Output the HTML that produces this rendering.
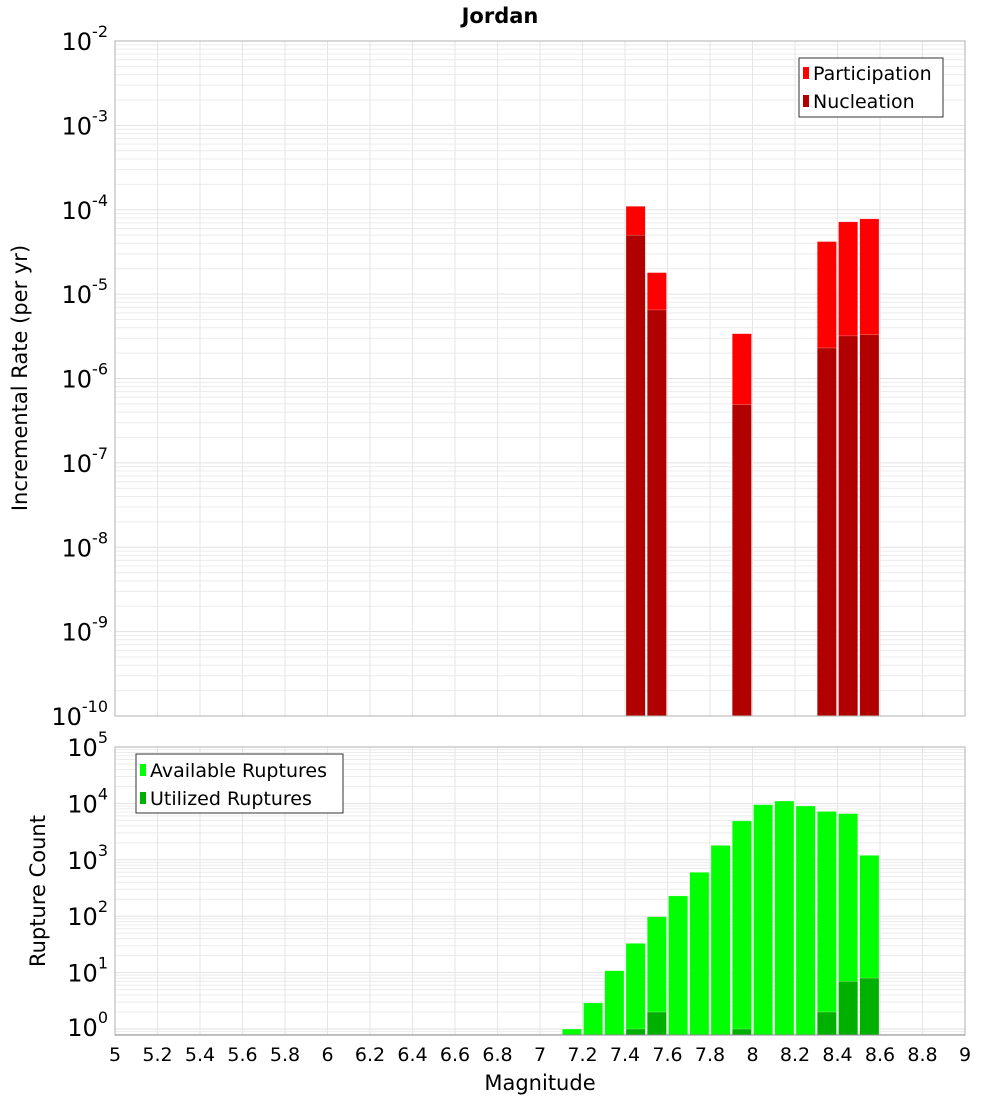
<!DOCTYPE html>
<html><head><meta charset="utf-8"><style>
body{margin:0;background:#fff;}
svg text{font-family:"DejaVu Sans","Liberation Sans",sans-serif;fill:#000;}
</style></head><body>
<svg id="chart" width="1000" height="1100" xmlns="http://www.w3.org/2000/svg">
<text x="500" y="23" text-anchor="middle" font-size="21" font-weight="bold">Jordan</text>
<g id="top"></g>
<g id="bot"></g>
<text x="540" y="1090" text-anchor="middle" font-size="21">Magnitude</text>
<text transform="translate(27,378) rotate(-90)" text-anchor="middle" font-size="21">Incremental Rate (per yr)</text>
<text transform="translate(45,891) rotate(-90)" text-anchor="middle" font-size="21">Rupture Count</text>
</svg>
<script>
const mags = [7.15,7.25,7.35,7.45,7.55,7.65,7.75,7.85,7.95,8.05,8.15,8.25,8.35,8.45,8.55];
const rateMags = [7.45,7.55,7.95,8.35,8.45,8.55];
const participation = [1.1e-4,1.8e-5,3.4e-6,4.2e-5,7.2e-5,7.8e-5];
const nucleation = [5e-5,6.5e-6,4.9e-7,2.3e-6,3.2e-6,3.3e-6];
const available = [1,2.9,10.8,33,98,229,600,1800,4900,9500,11000,9000,7200,6600,1200];
const utilized = [0,0,0,1,2,0,0,0,1,0,0,0,2,7,8];
const xTicks = ["5","5.2","5.4","5.6","5.8","6","6.2","6.4","6.6","6.8","7","7.2","7.4","7.6","7.8","8","8.2","8.4","8.6","8.8","9"];
const topExps = [-2,-3,-4,-5,-6,-7,-8,-9,-10];
const botExps = [5,4,3,2,1,0];

const NS="http://www.w3.org/2000/svg";
const L=115,R=965;
const x=m=>L+(m-5)/4*(R-L);
function mk(parent,tag,attrs){const e=document.createElementNS(NS,tag);for(const k in attrs)e.setAttribute(k,attrs[k]);parent.appendChild(e);return e;}
function panel(g,top,bottom,yOf,minE,maxE,name){
  // grid
  for(let e=minE-1;e<=maxE;e++){for(let k=1;k<10;k++){const y=yOf(k*Math.pow(10,e));if(y<top-0.5||y>bottom+0.5)continue;
    const ln=mk(g,'line',{x1:L,x2:R,y1:y,y2:y,stroke:k==1?'#e2e2e2':'#ececec','stroke-width':1});
    
    }}
  for(let i=0;i<xTicks.length;i++){const xx=x(+xTicks[i]);
    const ln=mk(g,'line',{x1:xx,x2:xx,y1:top,y2:bottom,stroke:'#e6e6e6','stroke-width':1});
    
    }
}
function bar(g,m,v,yOf,base,color,name){const y=yOf(v);const r=mk(g,'rect',{x:x(m-0.05)+1,y:y,width:x(m+0.05)-x(m-0.05)-2,height:base-y,fill:color,stroke:'#fff','stroke-opacity':0.5,'stroke-width':0.5});
  
  }
function expLabel(g,yy,e,name){const t=mk(g,'text',{x:108,y:yy+9,'text-anchor':'end','font-size':24});
  
  
  const a=document.createElementNS(NS,'tspan');a.textContent='10';t.appendChild(a);
  const b=document.createElementNS(NS,'tspan');b.setAttribute('font-size','16');b.setAttribute('dy','-13');b.textContent=String(e);t.appendChild(b);}
// top panel
const tg=document.getElementById('top');
const T1=41,B1=716;
const yT=v=>T1+(-2-Math.log10(v))/8*(B1-T1);
panel(tg,T1,B1,yT,-10,-2,'top');
rateMags.forEach((m,i)=>bar(tg,m,participation[i],yT,B1,'#ff0000','participation-bar'));
rateMags.forEach((m,i)=>bar(tg,m,nucleation[i],yT,B1,'#b00000','nucleation-bar'));
mk(tg,'rect',{x:L,y:T1,width:R-L,height:B1-T1,fill:'none',stroke:'#b0b0b0','stroke-width':1});
topExps.forEach(e=>expLabel(tg,yT(Math.pow(10,e)),e,'top-y-tick-label'));
// top legend
const lg=mk(tg,'g',{});


mk(lg,'rect',{x:799,y:58,width:144,height:59,fill:'#fff',stroke:'#333','stroke-width':1});
mk(lg,'rect',{x:803,y:67,width:6,height:12,fill:'#ff0000'});
mk(lg,'rect',{x:803,y:95,width:6,height:12,fill:'#b00000'});
const lt1=mk(lg,'text',{x:813,y:80,'font-size':19});lt1.textContent='Participation';
const lt2=mk(lg,'text',{x:813,y:108,'font-size':19});lt2.textContent='Nucleation';
// bottom panel
const bg=document.getElementById('bot');
const T2=747,B2=1035,Y0=1029;
const yB=v=>Y0-Math.log10(v)*(Y0-T2)/5;
panel(bg,T2,B2,yB,0,5,'bottom');
mags.forEach((m,i)=>{if(available[i]>0)bar(bg,m,available[i],yB,B2,'#00ff00','available-bar');});
mags.forEach((m,i)=>{if(utilized[i]>0)bar(bg,m,utilized[i],yB,B2,'#00b000','utilized-bar');});
mk(bg,'rect',{x:L,y:T2,width:R-L,height:B2-T2,fill:'none',stroke:'#b0b0b0','stroke-width':1});
mk(bg,'line',{x1:L,x2:R,y1:B2,y2:B2,stroke:'#888','stroke-width':1});
botExps.forEach(e=>expLabel(bg,e==0?1027:yB(Math.pow(10,e)),e,'bottom-y-tick-label'));
xTicks.forEach(s=>{const t=mk(bg,'text',{x:x(+s),y:1061,'text-anchor':'middle','font-size':19});t.textContent=s;
  
  });
const lg2=mk(bg,'g',{});


mk(lg2,'rect',{x:136,y:754,width:207,height:59,fill:'#fff',stroke:'#333','stroke-width':1});
mk(lg2,'rect',{x:140,y:764,width:6,height:12,fill:'#00ff00'});
mk(lg2,'rect',{x:140,y:792,width:6,height:12,fill:'#00b000'});
const lt3=mk(lg2,'text',{x:150,y:777,'font-size':19});lt3.textContent='Available Ruptures';
const lt4=mk(lg2,'text',{x:150,y:805,'font-size':19});lt4.textContent='Utilized Ruptures';
</script>
</body></html>
